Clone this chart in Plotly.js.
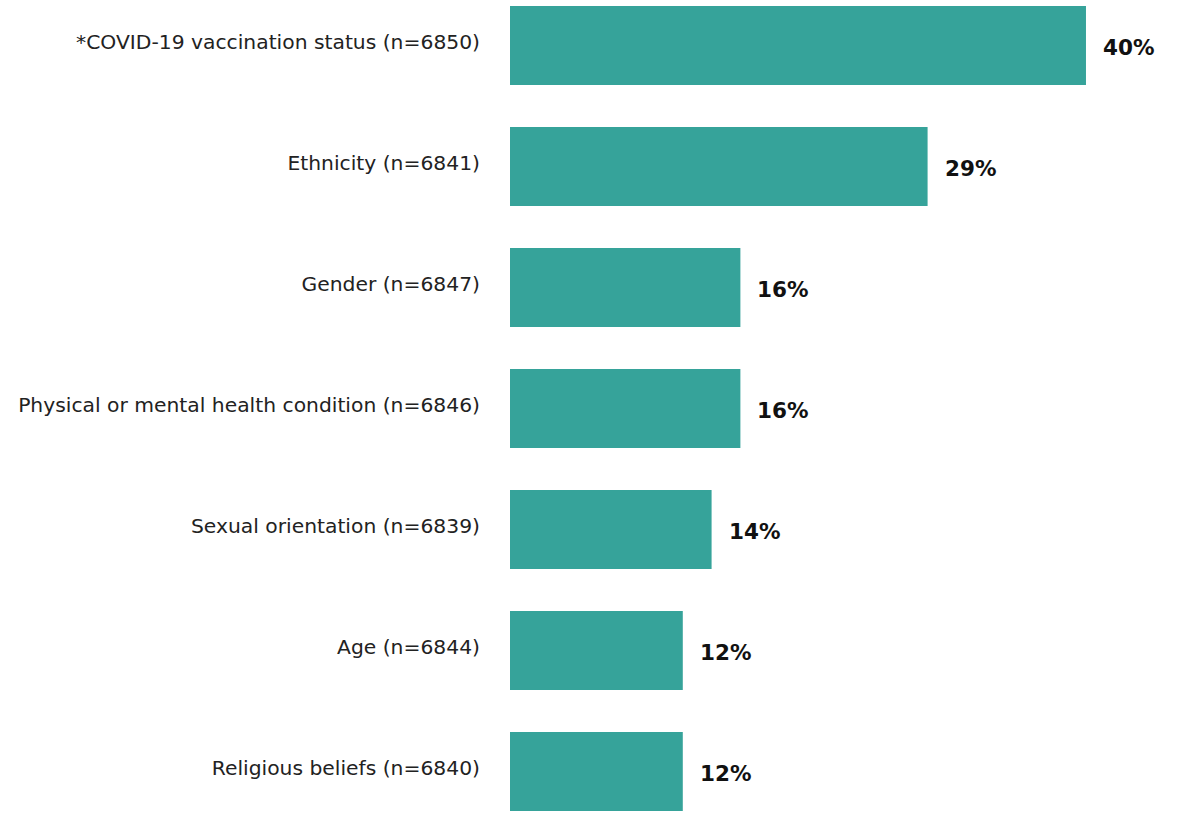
<!DOCTYPE html>
<html>
<head>
<meta charset="utf-8">
<script src="https://cdn.plot.ly/plotly-3.0.1.min.js"></script>
<style>html,body{margin:0;padding:0;background:#fff;}#chart{width:1179px;height:815px;}</style>
</head>
<body>
<div id="chart"></div>
<script>
const categories = [
  "*COVID-19 vaccination status (n=6850)",
  "Ethnicity (n=6841)",
  "Gender (n=6847)",
  "Physical or mental health condition (n=6846)",
  "Sexual orientation (n=6839)",
  "Age (n=6844)",
  "Religious beliefs (n=6840)"
];
const values = [40, 29, 16, 16, 14, 12, 12];
const valueLabels = ["40%", "29%", "16%", "16%", "14%", "12%", "12%"];

const trace = {
  type: "bar",
  orientation: "h",
  x: values,
  y: categories,
  marker: {color: "#36A39A"},
  hoverinfo: "none"
};

const annotations = categories.map((c, i) => ({
  x: values[i], y: c, xref: "x", yref: "y",
  text: valueLabels[i], showarrow: false,
  xanchor: "left", yanchor: "middle", xshift: 15, yshift: -2,
  font: {family: "'DejaVu Sans', sans-serif", size: 21.5, color: "#111", weight: 700}
}));

const layout = {
  width: 1179, height: 815,
  margin: {l: 510, r: 0, t: 0, b: 0},
  paper_bgcolor: "#fff", plot_bgcolor: "#fff",
  bargap: 0.347,
  showlegend: false,
  xaxis: {range: [0, 46.46], visible: false, fixedrange: true},
  yaxis: {
    type: "category",
    range: [6.36, -0.376],
    showgrid: false, zeroline: false, showline: false, ticks: "",
    ticklabelstandoff: 29,
    ticklabelshift: 4,
    tickfont: {family: "'DejaVu Sans', sans-serif", size: 20.3, color: "#222"}
  },
  annotations: annotations
};

Plotly.newPlot("chart", [trace], layout, {staticPlot: true, displayModeBar: false});
</script>
</body>
</html>
